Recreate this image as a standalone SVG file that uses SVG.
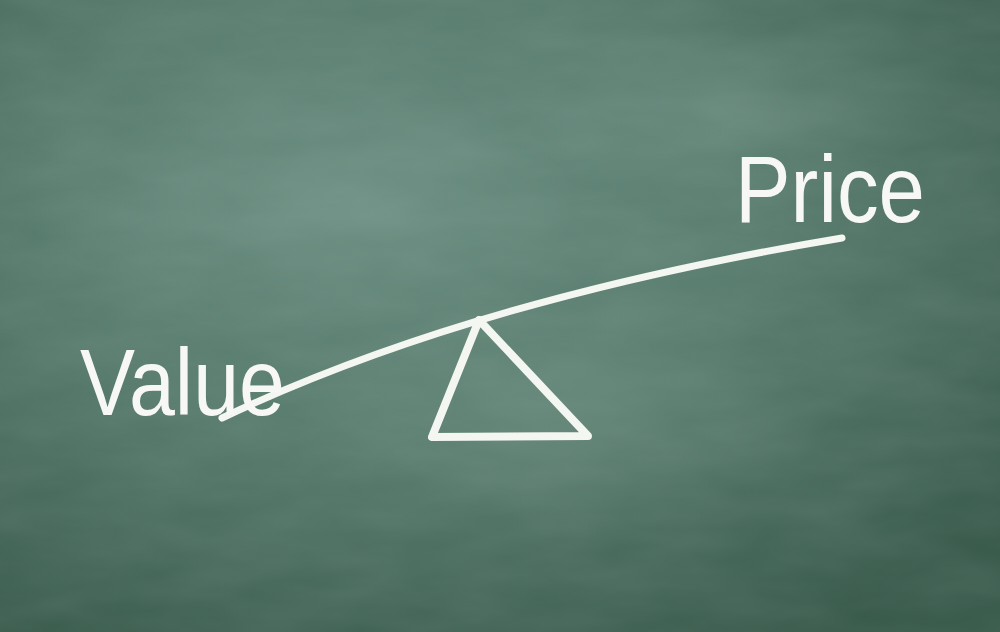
<svg xmlns="http://www.w3.org/2000/svg" width="1000" height="632" viewBox="0 0 1000 632">
  <defs>
    <radialGradient id="board" cx="0.4" cy="0.32" r="0.78">
      <stop offset="0" stop-color="#66897d"/>
      <stop offset="0.45" stop-color="#597d6f"/>
      <stop offset="0.8" stop-color="#47695b"/>
      <stop offset="1" stop-color="#395b4c"/>
    </radialGradient>
    <radialGradient id="smudge" cx="0.5" cy="0.5" r="0.5">
      <stop offset="0" stop-color="#a3bdb3" stop-opacity="0.18"/>
      <stop offset="1" stop-color="#a3bdb3" stop-opacity="0"/>
    </radialGradient>
    <filter id="chalk" x="-5%" y="-5%" width="110%" height="110%">
      <feTurbulence type="fractalNoise" baseFrequency="0.9" numOctaves="2" seed="3" result="n"/>
      <feColorMatrix in="n" type="matrix" values="0 0 0 0 1  0 0 0 0 1  0 0 0 0 1  0 0 0 -0.8 1.6" result="m"/>
      <feComposite in="SourceGraphic" in2="m" operator="in"/>
    </filter>
    <filter id="grain">
      <feTurbulence type="fractalNoise" baseFrequency="0.01 0.03" numOctaves="3" seed="7"/>
      <feColorMatrix type="matrix" values="0 0 0 0 0.75  0 0 0 0 0.85  0 0 0 0 0.8  0 0 0 0.1 -0.02"/>
    </filter>
    <style>
      .chalk { fill: none; stroke: #f4f6f2; stroke-linecap: round; stroke-linejoin: round; }
      .word { fill: #f7f8f5; font-family: "Liberation Sans", "DejaVu Sans", sans-serif; }
    </style>
  </defs>
  <rect width="1000" height="632" fill="url(#board)"/>
  <rect width="1000" height="632" filter="url(#grain)"/>
  <ellipse cx="560" cy="420" rx="260" ry="120" fill="url(#smudge)"/>
  <ellipse cx="300" cy="200" rx="280" ry="130" fill="url(#smudge)"/>
  <ellipse cx="720" cy="110" rx="220" ry="80" fill="url(#smudge)"/>

  <g id="connectors">
    <path id="beam" class="chalk" d="M222,418 Q470,300 842,238" stroke-width="7" filter="url(#chalk)"/>
  </g>
  <g id="fulcrum">
    <path class="chalk" d="M479,320 L432,437 L588,436 Z" stroke-width="8" filter="url(#chalk)"/>
  </g>
  <g id="value">
    <text class="word" x="80" y="415" font-size="94" textLength="205" lengthAdjust="spacingAndGlyphs">Value</text>
  </g>
  <g id="price">
    <text class="word" x="735" y="222" font-size="94" textLength="190" lengthAdjust="spacingAndGlyphs">Price</text>
  </g>
</svg>
